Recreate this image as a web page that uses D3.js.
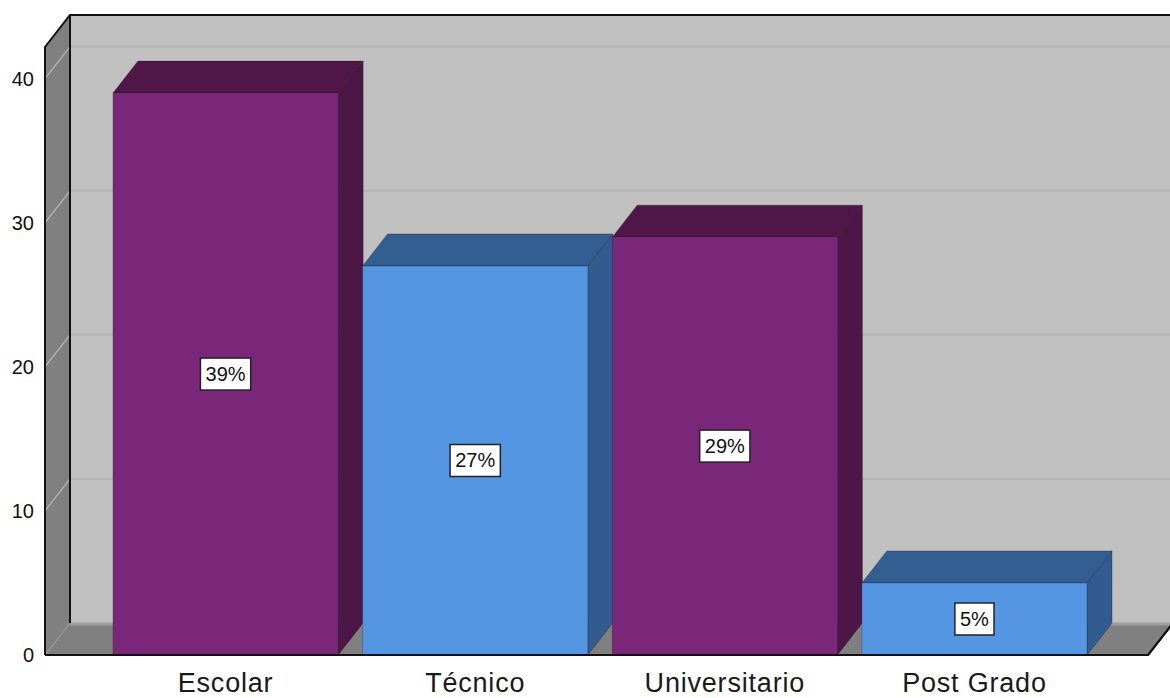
<!DOCTYPE html>
<html>
<head>
<meta charset="utf-8">
<script src="https://cdn.jsdelivr.net/npm/d3@7"></script>
<style>
  html, body { margin: 0; padding: 0; background: #fff; }
  svg { display: block; }
</style>
</head>
<body>
<svg id="chart" width="1170" height="698"></svg>
<script>
// ---- data ----
const categories = ["Escolar", "Técnico", "Universitario", "Post Grado"];
const values = [39, 27, 29, 5];
const percentLabels = ["39%", "27%", "29%", "5%"];
const yTicks = [0, 10, 20, 30, 40];
const barColors = ["purple", "blue", "purple", "blue"];

// ---- styles ----
const palette = {
  purple: { front: "#7B2779", top: "#4F1748", side: "#4C1746" },
  blue:   { front: "#5596E3", top: "#335E92", side: "#325C8F" }
};
const W = 1170, H = 698;
const dx = 25, dy = 32;           // 3D depth offset
const left = 45, right = 1148;    // front plane x extent
const base = 655, topY = 47;      // front plane y extent

const svg = d3.select("#chart");

const y = d3.scaleLinear().domain([0, 42.2]).range([base, topY]);
const x = d3.scaleBand().domain(categories)
  .range([100.75, 1099.25]).paddingInner(0.098).paddingOuter(0.049);

const g = svg.append("g");

// back wall
g.append("rect").attr("x", left + dx).attr("y", topY - dy)
  .attr("width", right - left + 10).attr("height", base - topY)
  .attr("fill", "#C0C0C0");
// left wall
g.append("polygon")
  .attr("points", [[left, topY], [left + dx, topY - dy], [left + dx, base - dy], [left, base]].join(" "))
  .attr("fill", "#808080");
// floor
g.append("polygon")
  .attr("points", [[left, base], [left + dx, base - dy], [right + dx, base - dy], [right, base]].join(" "))
  .attr("fill", "#808080");

// gridlines
yTicks.filter(v => v > 0).forEach(v => {
  const yf = y(v), yb = y(v) - dy;
  g.append("line").attr("x1", left + dx).attr("x2", W + 10)
    .attr("y1", yb).attr("y2", yb).attr("stroke", "#B3B3B3").attr("stroke-width", 2);
  g.append("line").attr("x1", left).attr("y1", yf).attr("x2", left + dx).attr("y2", yb)
    .attr("stroke", "#B8B8B8").attr("stroke-width", 1.2);
});
// floor back edge & diagonal
g.append("line").attr("x1", left + dx).attr("x2", W + 10)
  .attr("y1", base - dy + 1).attr("y2", base - dy + 1).attr("stroke", "#9E9E9E").attr("stroke-width", 3);
g.append("line").attr("x1", left).attr("y1", base).attr("x2", left + dx).attr("y2", base - dy)
  .attr("stroke", "#A0A0A0").attr("stroke-width", 1).attr("stroke-dasharray", "2,1");

// frame edges
const edge = { stroke: "#111", "stroke-width": 2, fill: "none" };
function line(pts) {
  const p = g.append("path").attr("d", d3.line()(pts));
  Object.entries(edge).forEach(([k, v]) => p.attr(k, v));
}
line([[left, base], [left, topY], [left + dx, topY - dy], [W + 10, topY - dy]]);
line([[left + dx, topY - dy], [left + dx, base - dy]]);
line([[left, base], [right, base], [right + dx, base - dy]]);

// bars
categories.forEach((c, i) => {
  const col = palette[barColors[i]];
  const x0 = x(c), x1 = x(c) + x.bandwidth();
  const yt = y(values[i]);
  const bg = g.append("g");
  bg.append("polygon")
    .attr("points", [[x1, yt], [x1 + dx, yt - dy], [x1 + dx, base - dy], [x1, base]].join(" "))
    .attr("fill", col.side).attr("stroke", "rgba(0,0,0,0.25)").attr("stroke-width", 1);
  bg.append("polygon")
    .attr("points", [[x0, yt], [x0 + dx, yt - dy], [x1 + dx, yt - dy], [x1, yt]].join(" "))
    .attr("fill", col.top).attr("stroke", "rgba(0,0,0,0.25)").attr("stroke-width", 1);
  bg.append("rect").attr("x", x0).attr("y", yt).attr("width", x.bandwidth()).attr("height", base - yt)
    .attr("fill", col.front).attr("stroke", "rgba(0,0,0,0.2)").attr("stroke-width", 1);

  // label box
  const cx = x0 + x.bandwidth() / 2, cy = (yt + base) / 2;
  const t = bg.append("text").attr("x", cx).attr("y", cy + 7)
    .attr("text-anchor", "middle").attr("font-family", "Liberation Sans, Arial, sans-serif")
    .attr("font-size", 20).attr("fill", "#111").text(percentLabels[i]);
  const bb = t.node().getBBox();
  bg.insert("rect", "text")
    .attr("x", cx - bb.width / 2 - 5).attr("y", cy - 16)
    .attr("width", bb.width + 10).attr("height", 32)
    .attr("fill", "#fff").attr("stroke", "#222").attr("stroke-width", 1.5);
});

// bottom front edge redraw on top
line([[left, base], [right, base], [right + dx, base - dy]]);

// y axis labels
const yAxis = d3.axisLeft(y).tickValues(yTicks).tickSize(0).tickPadding(0);
const ya = svg.append("g").attr("transform", "translate(34,0)").call(yAxis);
ya.select(".domain").remove();
ya.selectAll("text").attr("font-family", "Liberation Sans, Arial, sans-serif")
  .attr("font-size", 20).attr("fill", "#111");

// x category labels
const xAxis = d3.axisBottom(x).tickSize(0).tickPadding(0);
const xa = svg.append("g").attr("transform", "translate(0,673)").call(xAxis);
xa.select(".domain").remove();
xa.selectAll("text").attr("font-family", "Liberation Sans, Arial, sans-serif")
  .attr("font-size", 27).attr("letter-spacing", 0.8).attr("fill", "#1a1a1a")
  .attr("dy", "0.72em");
</script>
</body>
</html>
